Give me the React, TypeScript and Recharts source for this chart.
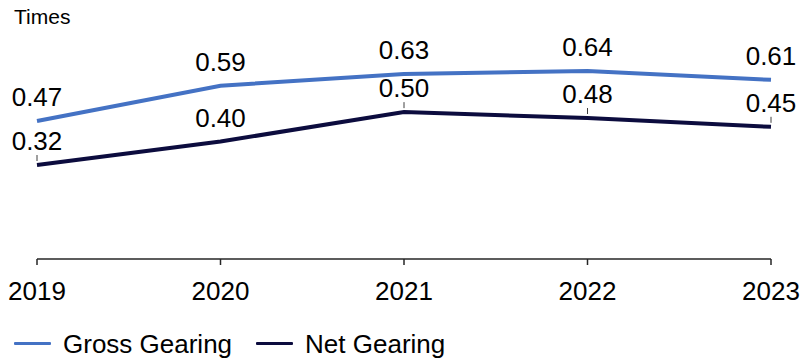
import React from "react";
import { LineChart, Line, XAxis, YAxis, LabelList } from "recharts";

// Gearing ratios by financial year (times)
const years = ["2019", "2020", "2021", "2022", "2023"];
const grossGearing = [0.47, 0.59, 0.63, 0.64, 0.61];
const netGearing = [0.32, 0.4, 0.5, 0.48, 0.45];
// net-gearing labels that get a short leader line down to the point
const netLeaders = [true, false, true, true, true];

const GROSS_COLOR = "#4472C4";
const NET_COLOR = "#0C0C3E";
const FONT = "'Liberation Sans', Arial, Helvetica, sans-serif";

const data = years.map((year, i) => ({
  year,
  gross: grossGearing[i],
  net: netGearing[i],
}));

const series = [
  { key: "gross", name: "Gross Gearing", color: GROSS_COLOR },
  { key: "net", name: "Net Gearing", color: NET_COLOR },
];

const makeLabel =
  (leaders?: boolean[]) =>
  (props: any) => {
    const { x, y, value, index } = props;
    const showLeader = leaders ? leaders[index] : false;
    return (
      <g>
        {showLeader && (
          <line x1={x} x2={x} y1={y - 10} y2={y - 4} stroke="#404040" strokeWidth={1} />
        )}
        <text
          x={x}
          y={y - 15}
          textAnchor="middle"
          fontSize={26}
          fontFamily={FONT}
          fill="#000"
        >
          {Number(value).toFixed(2)}
        </text>
      </g>
    );
  };

export default function App() {
  return (
    <div
      style={{
        position: "absolute",
        left: 0,
        top: 0,
        width: 805,
        height: 360,
        overflow: "hidden",
        background: "#fff",
        fontFamily: FONT,
      }}
    >
      <div
        style={{
          position: "absolute",
          left: 14,
          top: 6,
          fontSize: 21,
          lineHeight: "21px",
          color: "#000",
        }}
      >
        Times
      </div>
      <LineChart
        width={805}
        height={360}
        data={data}
        margin={{ top: 24, right: 34, left: 37, bottom: 41 }}
      >
        <XAxis
          dataKey="year"
          interval={0}
          height={60}
          tickSize={6}
          tickMargin={17}
          axisLine={{ stroke: "#262626", strokeWidth: 1.5 }}
          tickLine={{ stroke: "#262626", strokeWidth: 1.5 }}
          tick={{ fontSize: 26, fill: "#000", fontFamily: FONT }}
        />
        <YAxis hide domain={[0, 0.8]} />
        <Line
          type="linear"
          dataKey="gross"
          name="Gross Gearing"
          stroke={GROSS_COLOR}
          strokeWidth={4}
          dot={false}
          activeDot={false}
          isAnimationActive={false}
        >
          <LabelList dataKey="gross" content={makeLabel()} />
        </Line>
        <Line
          type="linear"
          dataKey="net"
          name="Net Gearing"
          stroke={NET_COLOR}
          strokeWidth={4}
          dot={false}
          activeDot={false}
          isAnimationActive={false}
        >
          <LabelList dataKey="net" content={makeLabel(netLeaders)} />
        </Line>
      </LineChart>
      <div
        style={{
          position: "absolute",
          left: 14,
          top: 331,
          display: "flex",
          alignItems: "center",
          height: 26,
          fontSize: 26,
          lineHeight: "26px",
          color: "#000",
        }}
      >
        {series.map((s, i) => (
          <div
            key={s.key}
            style={{ display: "flex", alignItems: "center", marginLeft: i === 0 ? 0 : 24 }}
          >
            <div
              style={{
                width: 37,
                height: 3,
                background: s.color,
                borderRadius: 1,
                marginRight: 12,
                position: "relative",
                top: -1,
              }}
            />
            <span>{s.name}</span>
          </div>
        ))}
      </div>
    </div>
  );
}
